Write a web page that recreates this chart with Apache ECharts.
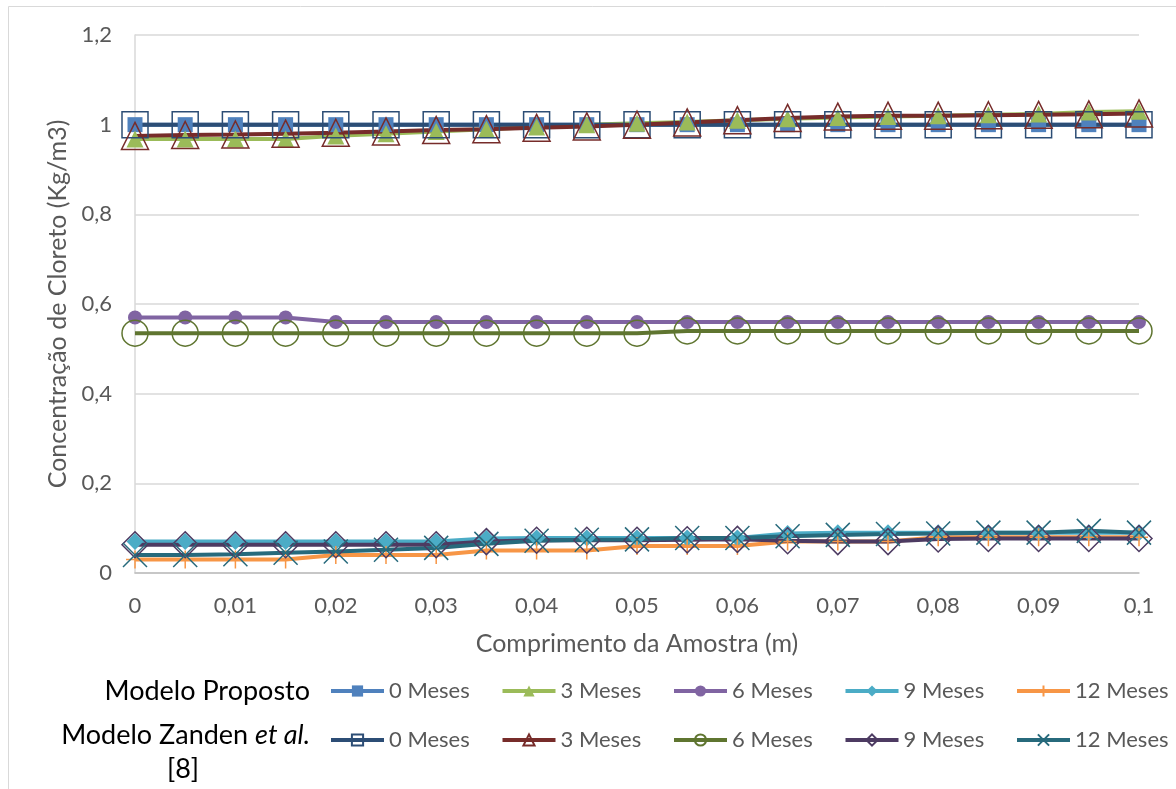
<!DOCTYPE html>
<html>
<head>
<meta charset="utf-8">
<script src="https://cdn.jsdelivr.net/npm/echarts@6/dist/echarts.min.js"></script>
<style>html,body{margin:0;padding:0;background:#fff}#c{width:1176px;height:789px}</style>
</head>
<body>
<div id="c"></div>
<script>
var categories = ['0','0,005','0,01','0,015','0,02','0,025','0,03','0,035','0,04','0,045','0,05','0,055','0,06','0,065','0,07','0,075','0,08','0,085','0,09','0,095','0,1'];
var yTicks = ['0', '0,2', '0,4', '0,6', '0,8', '1', '1,2'];
var seriesNames = ['0 Meses','3 Meses','6 Meses','9 Meses','12 Meses'];

// Modelo Proposto
var prop0  = [1,1,1,1,1,1,1,1,1,1,1,1,1,1,1,1,1,1,1,1,1];
var prop3  = [0.968,0.968,0.968,0.968,0.975,0.98,0.985,0.99,0.995,1.0,1.003,1.006,1.01,1.013,1.016,1.018,1.02,1.022,1.024,1.028,1.03];
var prop6  = [0.57,0.57,0.57,0.57,0.56,0.56,0.56,0.56,0.56,0.56,0.56,0.56,0.56,0.56,0.56,0.56,0.56,0.56,0.56,0.56,0.56];
var prop9  = [0.07,0.07,0.07,0.07,0.07,0.07,0.07,0.077,0.078,0.078,0.078,0.078,0.078,0.088,0.09,0.09,0.09,0.09,0.09,0.09,0.09];
var prop12 = [0.03,0.03,0.03,0.03,0.04,0.04,0.04,0.05,0.05,0.05,0.06,0.06,0.06,0.07,0.07,0.07,0.08,0.08,0.08,0.08,0.08];

// Modelo Zanden et al. [8]
var zan0  = [1,1,1,1,1,1,1,1,1,1,1,1,1,1,1,1,1,1,1,1,1];
var zan3  = [0.975,0.977,0.978,0.98,0.982,0.985,0.988,0.99,0.993,0.996,1.0,1.005,1.01,1.015,1.018,1.02,1.02,1.021,1.022,1.023,1.025];
var zan6  = [0.535,0.535,0.535,0.535,0.535,0.535,0.535,0.535,0.535,0.535,0.535,0.54,0.54,0.54,0.54,0.54,0.54,0.54,0.54,0.54,0.54];
var zan9  = [0.063,0.063,0.063,0.063,0.063,0.063,0.063,0.07,0.073,0.073,0.073,0.074,0.075,0.072,0.07,0.07,0.076,0.077,0.077,0.077,0.077];
var zan12 = [0.04,0.04,0.042,0.045,0.048,0.052,0.056,0.065,0.072,0.074,0.075,0.078,0.078,0.082,0.085,0.087,0.088,0.09,0.09,0.094,0.09];

var FONT = 'Lato';
var PLUS = 'path://M5,0 L5,10 M0,5 L10,5';
var CROSS = 'path://M0,0 L10,10 M10,0 L0,10';
var LW = 4;

function filled(name, data, color, symbol, size) {
  return {
    name: 'P|' + name, type: 'line', data: data, symbol: symbol, symbolSize: size,
    showAllSymbol: true, animation: false,
    lineStyle: { color: color, width: LW },
    itemStyle: { color: color, borderColor: color, borderWidth: 0 }
  };
}
function filledStroke(name, data, color, symbol, size) {
  return {
    name: 'P|' + name, type: 'line', data: data, symbol: symbol, symbolSize: size,
    showAllSymbol: true, animation: false,
    lineStyle: { color: color, width: LW },
    itemStyle: { color: 'rgba(0,0,0,0)', borderColor: color, borderWidth: 1.5 }
  };
}
function hollow(name, data, color, symbol, size) {
  return {
    name: 'Z|' + name, type: 'line', data: data, symbol: symbol, symbolSize: size,
    showAllSymbol: true, animation: false,
    lineStyle: { color: color, width: LW },
    itemStyle: { color: 'rgba(255,255,255,0)', borderColor: color, borderWidth: 1.5 }
  };
}

var series = [
  filled(seriesNames[0], prop0, '#4F81BD', 'rect', 15),
  filled(seriesNames[1], prop3, '#9BBB59', 'triangle', 17),
  filled(seriesNames[2], prop6, '#8064A2', 'circle', 14),
  filled(seriesNames[3], prop9, '#4BACC6', 'diamond', 17),
  filledStroke(seriesNames[4], prop12, '#F79646', PLUS, 18),
  hollow(seriesNames[0], zan0, '#2C4D75', 'rect', 26),
  hollow(seriesNames[1], zan3, '#772C2A', 'triangle', 27),
  hollow(seriesNames[2], zan6, '#5F7530', 'circle', 26),
  hollow(seriesNames[3], zan9, '#4D3B62', 'diamond', 26),
  hollow(seriesNames[4], zan12, '#276A7C', CROSS, 24)
];

var legends = [];
['P', 'Z'].forEach(function (prefix, row) {
  seriesNames.forEach(function (n, i) {
    legends.push({
      data: [prefix + '|' + n],
      left: 329 + i * 171.5, top: (row === 0 ? 691 : 740) - 12, orient: 'horizontal',
      padding: 0, itemWidth: 53, itemHeight: 14,
      lineStyle: { width: 4 },
      formatter: function (nm) { return nm.split('|')[1]; },
      textStyle: { fontFamily: FONT, fontSize: 22, color: '#595959', lineHeight: 24 },
      selectedMode: false
    });
  });
});

var chart = echarts.init(document.getElementById('c'), null, { renderer: 'canvas' });
chart.setOption({
  backgroundColor: '#ffffff',
  animation: false,
  textStyle: { fontFamily: FONT },
  grid: { left: 135, right: 37, top: 35, bottom: 216, containLabel: false },
  legend: legends,
  xAxis: {
    type: 'category', data: categories, boundaryGap: false,
    name: 'Comprimento da Amostra (m)', nameLocation: 'middle', nameGap: 58,
    nameTextStyle: { fontFamily: FONT, fontSize: 25, color: '#595959' },
    axisLine: { lineStyle: { color: '#BFBFBF', width: 1.5 } },
    axisTick: { show: false },
    axisLabel: { interval: 1, fontFamily: FONT, fontSize: 22, color: '#595959', margin: 22 },
    splitLine: { show: false }
  },
  yAxis: {
    type: 'value', min: 0, max: 1.2, interval: 0.2,
    name: 'Concentração de Cloreto (Kg/m3)', nameLocation: 'middle', nameGap: 65,
    nameTextStyle: { fontFamily: FONT, fontSize: 25, color: '#595959' },
    axisLine: { show: true, lineStyle: { color: '#D9D9D9', width: 1.5 } },
    axisTick: { show: false },
    axisLabel: {
      fontFamily: FONT, fontSize: 22, color: '#595959', margin: 23,
      formatter: function (v) { return yTicks[Math.round(v / 0.2)]; }
    },
    splitLine: { lineStyle: { color: '#D9D9D9', width: 1.5 } }
  },
  graphic: [
    { type: 'rect', shape: { x: 8.5, y: 6.5, width: 1200, height: 800 }, style: { fill: 'none', stroke: '#D9D9D9', lineWidth: 1 }, silent: true },
    { type: 'text', x: 310, y: 691, style: { text: 'Modelo Proposto', font: '27px Lato', fill: '#000', textAlign: 'right', textVerticalAlign: 'middle' } },
    { type: 'text', x: 310, y: 735, style: {
        text: '{n|Modelo Zanden }{i|et al.}',
        textAlign: 'right', textVerticalAlign: 'middle',
        rich: { n: { fontFamily: FONT, fontSize: 27, color: '#000' }, i: { fontFamily: FONT, fontStyle: 'italic', fontSize: 27, color: '#000' } }
      } },
    { type: 'text', x: 183, y: 769, style: { text: '[8]', font: '27px Lato', fill: '#000', textAlign: 'center', textVerticalAlign: 'middle' } }
  ],
  series: series
});
</script>
</body>
</html>
